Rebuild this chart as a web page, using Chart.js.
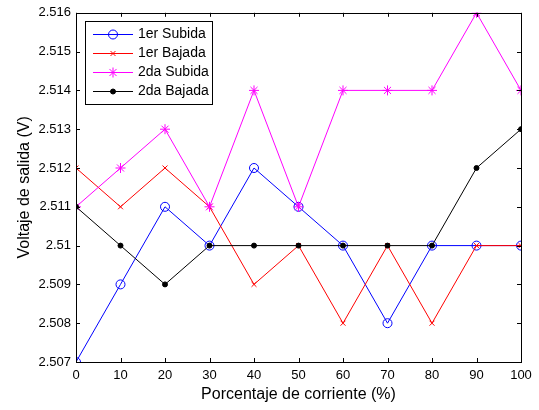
<!DOCTYPE html>
<html>
<head>
<meta charset="utf-8">
<script src="https://cdn.jsdelivr.net/npm/chart.js@4"></script>
<style>
  html, body { margin: 0; padding: 0; background: #fff; }
  #wrap { width: 539px; height: 410px; }
</style>
</head>
<body>
<div id="wrap"><canvas id="c" width="539" height="410"></canvas></div>
<script>
const porcentaje = [0, 10, 20, 30, 40, 50, 60, 70, 80, 90, 100];
const subida1 = [2.507, 2.509, 2.511, 2.510, 2.512, 2.511, 2.510, 2.508, 2.510, 2.510, 2.510];
const bajada1 = [2.512, 2.511, 2.512, 2.511, 2.509, 2.510, 2.508, 2.510, 2.508, 2.510, 2.510];
const subida2 = [2.511, 2.512, 2.513, 2.511, 2.514, 2.511, 2.514, 2.514, 2.514, 2.516, 2.514];
const bajada2 = [2.511, 2.510, 2.509, 2.510, 2.510, 2.510, 2.510, 2.510, 2.510, 2.512, 2.513];
const seriesNames = ['1er Subida', '1er Bajada', '2da Subida', '2da Bajada'];
const xTitle = 'Porcentaje de corriente (%)';
const yTitle = 'Voltaje de salida (V)';

const FONT = '"Liberation Sans", Arial, sans-serif';

const toPoints = arr => arr.map((v, i) => ({ x: porcentaje[i], y: v }));

const styles = [
  { color: '#0000ff', pointStyle: 'circle', radius: 4.5, fill: false },
  { color: '#ff0000', pointStyle: 'crossRot', radius: 3.5, fill: false },
  { color: '#ff00ff', pointStyle: 'star', radius: 5, fill: false },
  { color: '#000000', pointStyle: 'circle', radius: 2.5, fill: true }
];

const allSeries = [subida1, bajada1, subida2, bajada2];

const datasets = allSeries.map((s, i) => ({
  label: seriesNames[i],
  data: toPoints(s),
  borderColor: styles[i].color,
  backgroundColor: styles[i].fill ? styles[i].color : 'rgba(0,0,0,0)',
  pointBorderColor: styles[i].color,
  pointBackgroundColor: styles[i].fill ? styles[i].color : 'rgba(0,0,0,0)',
  pointStyle: styles[i].pointStyle,
  pointRadius: styles[i].radius,
  pointBorderWidth: 1,
  borderWidth: 1,
  tension: 0,
  order: 4 - i
}));

const matlabDecor = {
  id: 'matlabDecor',
  afterDraw(chart) {
    const { ctx, chartArea: a, scales } = chart;
    const xs = scales.x, ys = scales.y;
    ctx.save();
    ctx.strokeStyle = '#000';
    ctx.lineWidth = 1;
    ctx.strokeRect(Math.round(a.left) + 0.5, Math.round(a.top) + 0.5,
      Math.round(a.right - a.left), Math.round(a.bottom - a.top));

    // inward ticks
    ctx.beginPath();
    xs.ticks.forEach(t => {
      const px = Math.round(xs.getPixelForValue(t.value)) + 0.5;
      ctx.moveTo(px, a.bottom); ctx.lineTo(px, a.bottom - 4);
      ctx.moveTo(px, a.top); ctx.lineTo(px, a.top + 4);
    });
    ys.ticks.forEach(t => {
      const py = Math.round(ys.getPixelForValue(t.value)) + 0.5;
      ctx.moveTo(a.left, py); ctx.lineTo(a.left + 4, py);
      ctx.moveTo(a.right, py); ctx.lineTo(a.right - 4, py);
    });
    ctx.stroke();

    // axis titles
    ctx.fillStyle = '#000';
    ctx.font = '16px ' + FONT;
    ctx.textAlign = 'center';
    ctx.textBaseline = 'middle';
    ctx.fillText(xTitle, (a.left + a.right) / 2, 395);
    ctx.save();
    ctx.translate(25, (a.top + a.bottom) / 2);
    ctx.rotate(-Math.PI / 2);
    ctx.fillText(yTitle, 0, 0);
    ctx.restore();

    // legend box
    const lx = 85, ly = 21, lw = 127, lh = 83;
    ctx.fillStyle = '#fff';
    ctx.fillRect(lx, ly, lw, lh);
    ctx.strokeStyle = '#000';
    ctx.strokeRect(lx + 0.5, ly + 0.5, lw, lh);
    ctx.font = '14px ' + FONT;
    ctx.textAlign = 'left';
    const rows = [34, 53, 72, 91];
    chart.data.datasets.forEach((ds, i) => {
      const y = rows[i] + 0.5;
      ctx.strokeStyle = ds.borderColor;
      ctx.beginPath();
      ctx.moveTo(93, y); ctx.lineTo(133, y);
      ctx.stroke();
      ctx.fillStyle = ds.pointBackgroundColor;
      Chart.helpers.drawPoint(ctx, {
        pointStyle: ds.pointStyle,
        radius: ds.pointRadius,
        borderWidth: 1,
        rotation: 0
      }, 113, y);
      ctx.fillStyle = '#000';
      ctx.fillText(ds.label, 138, y);
    });
    ctx.restore();
  }
};

new Chart(document.getElementById('c'), {
  type: 'line',
  data: { datasets },
  plugins: [matlabDecor],
  options: {
    responsive: false,
    animation: false,
    layout: { padding: { top: 11, right: 18, left: 0, bottom: 0 } },
    plugins: { legend: { display: false }, tooltip: { enabled: false } },
    scales: {
      x: {
        type: 'linear',
        min: 0,
        max: 100,
        border: { display: false },
        grid: { display: false, drawTicks: false },
        afterFit: s => { s.height = 48; },
        ticks: {
          stepSize: 10,
          padding: 6,
          color: '#000',
          font: { family: FONT, size: 13 },
          maxRotation: 0
        }
      },
      y: {
        min: 2.507,
        max: 2.516,
        border: { display: false },
        grid: { display: false, drawTicks: false },
        afterFit: s => { s.width = 76; },
        ticks: {
          stepSize: 0.001,
          padding: 5,
          color: '#000',
          font: { family: FONT, size: 13 },
          callback: v => String(Number(Number(v).toFixed(3)))
        }
      }
    }
  }
});
</script>
</body>
</html>
